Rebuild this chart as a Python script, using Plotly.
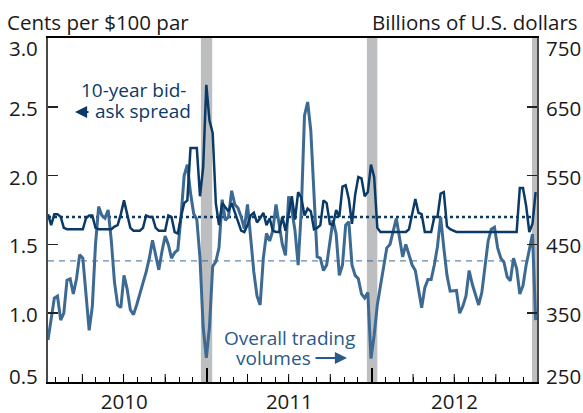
import pandas as pd
import plotly.graph_objects as go

# weekly observations, first one on 2010-01-15
start_date = "2010-01-15"

# 10-year bid-ask spread, cents per $100 par (left axis)
spread = [
    1.72, 1.64, 1.72, 1.72, 1.70, 1.62, 1.61, 1.61, 1.61, 1.61,
    1.61, 1.61, 1.69, 1.71, 1.71, 1.62, 1.61, 1.61, 1.61, 1.61,
    1.61, 1.63, 1.64, 1.72, 1.82, 1.72, 1.62, 1.60, 1.60, 1.60,
    1.62, 1.71, 1.70, 1.70, 1.62, 1.60, 1.60, 1.60, 1.71, 1.70,
    1.59, 1.58, 1.70, 1.80, 1.82, 2.20, 2.20, 2.20, 1.85, 2.06,
    2.66, 2.40, 2.31, 1.80, 1.64, 1.80, 1.77, 1.74, 1.80, 1.73,
    1.66, 1.60, 1.59, 1.64, 1.71, 1.73, 1.66, 1.69, 1.73, 1.64,
    1.69, 1.60, 1.59, 1.59, 1.70, 1.60, 1.72, 1.85, 1.68, 1.88,
    1.84, 1.71, 1.76, 1.74, 1.61, 1.62, 1.64, 1.82, 1.80, 1.65,
    1.64, 1.75, 1.70, 1.92, 1.93, 1.83, 1.65, 1.86, 1.99, 1.98,
    1.85, 1.88, 2.08, 1.99, 1.62, 1.59, 1.59, 1.59, 1.59, 1.59,
    1.59, 1.59, 1.59, 1.59, 1.61, 1.71, 1.83, 1.73, 1.72, 1.59,
    1.59, 1.59, 1.70, 1.70, 1.87, 1.88, 1.63, 1.61, 1.60, 1.59,
    1.59, 1.59, 1.59, 1.59, 1.59, 1.59, 1.59, 1.59, 1.59, 1.59,
    1.59, 1.59, 1.59, 1.59, 1.59, 1.59, 1.59, 1.59, 1.59, 1.91,
    1.91, 1.78, 1.59, 1.65, 1.88,
]

# overall trading volumes, billions of U.S. dollars (right axis)
volumes = [
    311, 340, 372, 375, 340, 350, 398, 400, 378, 400,
    435, 430, 380, 325, 360, 450, 505, 492, 488, 500,
    455, 395, 362, 358, 405, 385, 355, 348, 362, 380,
    394, 410, 430, 456, 435, 413, 440, 462, 450, 430,
    438, 442, 490, 550, 566, 525, 495, 486, 430, 330,
    285, 330, 418, 425, 445, 515, 485, 490, 528, 508,
    503, 490, 473, 508, 460, 410, 375, 362, 430, 466,
    455, 470, 508, 480, 450, 434, 520, 500, 470, 420,
    500, 637, 657, 615, 520, 432, 430, 412, 420, 455,
    485, 465, 405, 420, 478, 483, 420, 405, 400, 378,
    372, 380, 284, 318, 362, 390, 420, 445, 450, 470,
    488, 460, 432, 450, 435, 420, 412, 385, 358, 387,
    399, 399, 420, 447, 490, 445, 405, 382, 382, 383,
    350, 360, 375, 412, 392, 375, 362, 380, 417, 455,
    472, 475, 445, 430, 424, 403, 397, 430, 415, 378,
    390, 420, 442, 465, 340,
]

spread_avg = 1.70
volume_avg = 426

# year-end periods shaded in gray
band_starts = ["2010-12-19", "2011-12-21", "2012-12-20"]
band_ends = ["2011-01-13", "2012-01-13", "2012-12-31"]

x_range = ["2010-01-15", "2012-12-31"]
left_ticks = [0.5, 1.0, 1.5, 2.0, 2.5, 3.0]
right_ticks = [250, 350, 450, 550, 650, 750]

NAVY = "#0b3a66"
BLUE = "#3d6a93"
TEXT_BLUE = "#2a5a86"
INK = "#1a1a1a"
FONT = "Open Sans"
AX_SIZE = 20.5

dates = pd.date_range(start_date, periods=len(spread), freq="7D")

fig = go.Figure()

# volumes on the primary (right) axis, spread on the overlay (left) axis so it sits on top
fig.add_trace(go.Scatter(x=dates, y=volumes, yaxis="y", mode="lines",
                         line=dict(color=BLUE, width=3), hoverinfo="skip"))
fig.add_trace(go.Scatter(x=dates, y=spread, yaxis="y2", mode="lines",
                         line=dict(color=NAVY, width=2.5), hoverinfo="skip"))

# average lines, then gray bands drawn over them (both below the data)
fig.add_shape(type="line", xref="x", yref="y2", x0=x_range[0], x1=band_starts[-1],
              y0=spread_avg, y1=spread_avg, layer="below",
              line=dict(color=NAVY, width=2.5, dash="dot"))
fig.add_shape(type="line", xref="x", yref="y", x0=x_range[0], x1=band_starts[-1],
              y0=volume_avg, y1=volume_avg, layer="below",
              line=dict(color=BLUE, width=1, dash="6px,5px"))
for s, e in zip(band_starts, band_ends):
    fig.add_shape(type="rect", xref="x", yref="paper", x0=s, x1=e, y0=0, y1=1,
                  layer="below", fillcolor="#bdbec0", line=dict(width=0))

# slightly longer quarter ticks
for q in pd.date_range("2010-04-01", "2012-12-01", freq="QS"):
    if q.month != 1:
        fig.add_shape(type="line", xref="x", yref="paper", x0=q, x1=q, y0=0,
                      y1=8 / 344, layer="above", line=dict(color="black", width=1))

W, H = 583, 413
L, R, T, B = 48, 46, 38, 31
pw, ph = W - L - R, H - T - B


def px(xp, yp):
    return (xp - L) / pw, (H - B - yp) / ph


annots = []


def label(text, xp, yp, anchor, color, size=19):
    x, y = px(xp, yp)
    annots.append(dict(text=text, x=x, y=y, xref="paper", yref="paper",
                       xanchor=anchor, yanchor="middle", showarrow=False,
                       font=dict(family=FONT, size=size, color=color)))


def arrow(tip_x, tail_x, yp, color):
    x, y = px(tip_x, yp)
    annots.append(dict(text="", x=x, y=y, xref="paper", yref="paper",
                       ax=tail_x - tip_x, ay=0, axref="pixel", ayref="pixel",
                       showarrow=True, arrowhead=2, arrowsize=1.1, arrowwidth=2.2,
                       arrowcolor=color))


# y tick labels as annotations so the end labels can be nudged inwards
def tick_labels(values, yref, side, fmt):
    for i, v in enumerate(values):
        shift = -10 if i == len(values) - 1 else (6 if i == 0 else -1)
        annots.append(dict(text=fmt.format(v), x=0 if side == "left" else 1, y=v,
                           xref="paper", yref=yref, showarrow=False,
                           xanchor="right" if side == "left" else "left",
                           xshift=-8 if side == "left" else 7, yshift=shift,
                           font=dict(family=FONT, size=AX_SIZE, color=INK)))


tick_labels(left_ticks, "y2", "left", "{:.1f}")
tick_labels(right_ticks, "y", "right", "{:d}")

label("Cents per $100 par", 5, 22, "left", INK, AX_SIZE)
label("Billions of U.S. dollars", 580, 22, "right", INK, AX_SIZE)
label("10-year bid-", 188, 90, "right", NAVY)
label("ask spread", 193, 111, "right", NAVY)
arrow(75, 90, 112, NAVY)
label("Overall trading", 289, 338, "center", TEXT_BLUE)
label("volumes", 273, 358, "center", TEXT_BLUE)
arrow(347, 314, 358, TEXT_BLUE)

fig.update_layout(
    width=W, height=H,
    margin=dict(l=L, r=R, t=T, b=B, autoexpand=False),
    paper_bgcolor="white", plot_bgcolor="white",
    showlegend=False,
    font=dict(family=FONT, size=AX_SIZE, color=INK),
    annotations=annots,
    xaxis=dict(
        range=x_range, type="date", automargin=False,
        tick0="2010-01-01", dtick="M12", tickformat="%Y", ticklabelmode="period",
        ticks="inside", ticklen=14, tickwidth=1.5, tickcolor="black",
        minor=dict(dtick="M1", tick0="2010-01-01", ticks="inside", ticklen=5,
                   tickcolor="black", tickwidth=1),
        showline=True, linecolor="black", linewidth=2, mirror=True,
        showgrid=False, zeroline=False, ticklabelstandoff=0,
    ),
    yaxis=dict(
        range=[250, 750], tickvals=right_ticks, side="right", automargin=False,
        ticks="inside", ticklen=10, tickcolor="#222", tickwidth=1.5,
        showticklabels=False,
        showline=True, linecolor="#4a4a4a", linewidth=2,
        showgrid=False, zeroline=False,
    ),
    yaxis2=dict(
        range=[0.5, 3.0], tickvals=left_ticks, automargin=False,
        side="left", overlaying="y", showticklabels=False,
        ticks="inside", ticklen=10, tickcolor="#222", tickwidth=1.5,
        showline=True, linecolor="#4a4a4a", linewidth=2,
        showgrid=False, zeroline=False,
    ),
)

fig.write_html("out.html", config={"displayModeBar": False, "staticPlot": True},
               post_script="document.body.style.margin='0';")
